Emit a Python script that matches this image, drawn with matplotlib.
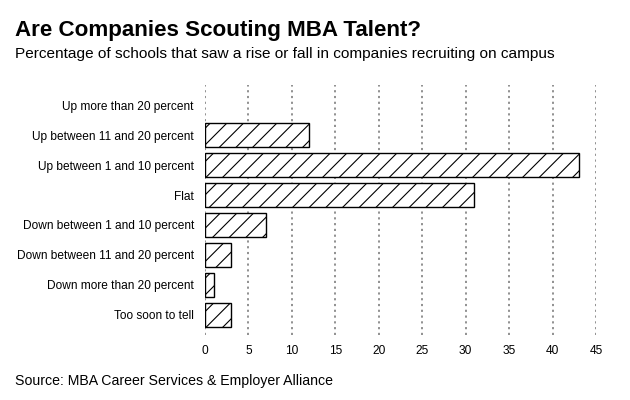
import matplotlib
matplotlib.use("Agg")
import matplotlib.pyplot as plt

categories = ["Up more than 20 percent", "Up between 11 and 20 percent",
              "Up between 1 and 10 percent", "Flat", "Down between 1 and 10 percent",
              "Down between 11 and 20 percent", "Down more than 20 percent", "Too soon to tell"]
values = [0, 12, 43, 31, 7, 3, 1, 3]
xticks = [0, 5, 10, 15, 20, 25, 30, 35, 40, 45]

plt.rcParams['font.family'] = ['Liberation Sans', 'DejaVu Sans']
plt.rcParams['hatch.linewidth'] = 0.8

fig = plt.figure(figsize=(6.3, 4.0), dpi=100)
ax = fig.add_axes([205/630, 1-335/400, (596-205)/630, 250/400])

ypos = list(range(len(categories)))
for y, v in zip(ypos, values):
    if v > 0:
        ax.barh(y, v, height=0.8, color='white', edgecolor='black', linewidth=1.0, hatch='//', zorder=3)

ax.set_xlim(0, 45)
ax.set_ylim(len(categories) - 1 + 0.667, -0.667)
ax.set_yticks(ypos)
ax.set_yticklabels(categories, fontsize=8.6)
ax.set_xticks(xticks)
ax.set_xticklabels([str(t) for t in xticks], fontsize=8.6)
ax.tick_params(length=0, pad=8)
ax.tick_params(axis='x', pad=7)
for s in ax.spines.values():
    s.set_visible(False)
ax.grid(axis='x', linestyle=(0, (1.2, 2)), color='#888888', linewidth=1.3, zorder=0)
ax.set_axisbelow(True)

fig.text(15/630, 1-36/400, "Are Companies Scouting MBA Talent?", fontsize=16.1, fontweight='bold',
         va='baseline', ha='left')
fig.text(15/630, 1-58/400, "Percentage of schools that saw a rise or fall in companies recruiting on campus",
         fontsize=11.05, va='baseline', ha='left')
fig.text(15/630, 1-381/400, "Source: MBA Career Services & Employer Alliance", fontsize=10.2, va='center', ha='left')

fig.savefig("out.png", dpi=100)
